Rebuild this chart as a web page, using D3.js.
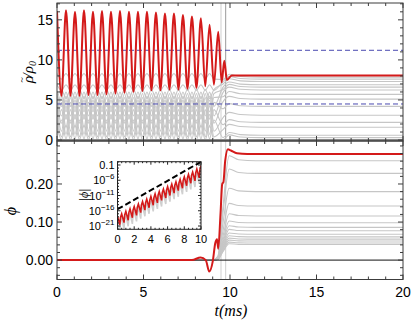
<!DOCTYPE html>
<html>
<head>
<meta charset="utf-8">
<script src="https://cdn.jsdelivr.net/npm/d3@7"></script>
<style>
body { margin: 0; background: #fff; }
svg { display: block; }
</style>
</head>
<body>
<script>
// --- density, red run: one peak and one trough per cycle (t in ms)
var redPeakT = [0, 0.52, 1.04, 1.56, 2.08, 2.6, 3.12, 3.64, 4.16, 4.68, 5.2, 5.72, 6.24, 6.76, 7.28, 7.8, 8.32, 8.82, 9.32];
var redPeakV = [16.1, 16.2, 16.0, 16.2, 16.0, 16.1, 16.0, 16.1, 16.0, 16.0, 16.0, 15.9, 15.8, 15.8, 15.6, 15.4, 15.2, 14.4, 13.5];
var redTroughT = [0.26, 0.78, 1.3, 1.82, 2.34, 2.86, 3.38, 3.9, 4.42, 4.94, 5.46, 5.98, 6.5, 7.02, 7.54, 8.06, 8.57, 9.07];
var redTroughV = [5.5, 5.5, 5.5, 5.6, 5.6, 5.7, 5.8, 5.9, 6.0, 6.1, 6.2, 6.2, 6.3, 6.3, 6.4, 6.5, 6.7, 6.9];
var redTailT = [9.52, 9.67, 9.82, 10.1, 20];
var redTailV = [7.2, 9.9, 7.5, 8.05, 8.05];

// --- density, grey runs: oscillation range and level after collapse
var grayRhoHi  = [8.3, 6.9, 6.3, 6.0, 5.8, 5.5, 5.3, 5.0, 4.7, 4.3, 3.8, 3.2, 2.5, 1.8];
var grayRhoLo  = [7.6, 6.2, 5.2, 4.2, 3.5, 3.0, 2.6, 2.1, 1.6, 1.1, 0.7, 0.4, 0.15, 0.05];
var grayRhoEnd = [7.85, 7.6, 7.3, 6.9, 6.6, 6.25, 5.7, 5.1, 4.2, 3.1, 2.2, 1.6, 0.6, 0.3];
var grayPhase  = [0, 0, 1, 0, 1, 0, 1, 0, 1, 0, 1, 0, 1, 0];
var grayRhoTailT = [9.6, 9.95, 10.6, 11.8, 20];
var grayRhoTailD = [-0.3, 0.35, 0.08, 0, 0];

// reference densities (dashed)
var rhoDashed = [11.2, 4.5];

// --- scalar field
var phiRedT = [0, 7.8, 8.3, 8.6, 8.8, 9.0, 9.15, 9.25, 9.32, 9.45, 9.55, 9.62, 9.72, 9.88, 10.05, 10.4, 11, 20];
var phiRedV = [0, 0, 0.007, 0.0, -0.03, -0.004, 0.045, 0.055, 0.03, 0.12, 0.2, 0.205, 0.26, 0.291, 0.288, 0.281, 0.279, 0.279];
var grayPhiEnd = [0.261, 0.228, 0.180, 0.142, 0.116, 0.098, 0.086, 0.077, 0.068, 0.061, 0.055, 0.050, 0.045, 0.041];
var grayPhiRiseT = [0, 9.0, 9.3, 9.6, 9.95, 10.5, 11.5, 20];
var grayPhiRiseF = [0, 0, 0.04, 0.55, 1.05, 1.01, 1, 1];

// collapse markers
var markT = [9.48, 9.75];

// --- inset: log10 |phi| over the first 10 ms
var insetT = [0, 0.5, 1, 1.5, 2, 2.5, 3, 3.5, 4, 4.5, 5, 5.5, 6, 6.5, 7, 7.5, 8, 8.5, 9, 9.5, 10];
var insetRedHi = [-17.8, -17.0, -16.2, -15.4, -14.6, -13.8, -13.0, -12.2, -11.3, -10.5, -9.7, -8.9, -8.1, -7.3, -6.5, -5.7, -4.9, -4.1, -3.3, -2.3, -1.2];
var insetRedDip = [-20.6, -19.9, -19.1, -18.3, -17.5, -16.6, -15.8, -15.0, -14.2, -13.4, -12.6, -11.8, -11.0, -10.2, -9.4, -8.6, -7.8, -7.0, -6.2, -5.2, -4.0];
var insetGrayHi = [-19.2, -18.4, -17.6, -16.8, -16.0, -15.2, -14.4, -13.6, -12.7, -11.9, -11.1, -10.3, -9.5, -8.7, -7.9, -7.1, -6.3, -5.5, -4.7, -3.7, -2.6];
var insetDashT = [0, 10];
var insetDashV = [-15.5, 0.05];

var xTicks = [0, 5, 10, 15, 20];
var rhoTicks = [0, 5, 10, 15];
var phiTicks = [0, 0.1, 0.2];
var insetXTicks = [0, 2, 4, 6, 8, 10];
var insetYTicks = [-1, -6, -11, -16, -21];

var W = 414, H = 323;
var left = 57, right = 403;
var topY0 = 3, topY1 = 141, botY0 = 141, botY1 = 279.5;
var red = "#d41a1a", gray = "#c6c6c6", frameCol = "#3c3c3c";

var svg = d3.select("body").append("svg")
    .attr("width", W)
    .attr("height", H);

var x = d3.scaleLinear().domain([0, 20]).range([left, right]);
var yRho = d3.scaleLinear().domain([-0.12, 17.1]).range([topY1, topY0]);
var yPhi = d3.scaleLinear().domain([-0.051, 0.313]).range([botY1, botY0]);

var defs = svg.append("defs");
defs.append("clipPath").attr("id", "clipTop").append("rect")
    .attr("x", left).attr("y", topY0).attr("width", right - left).attr("height", topY1 - topY0);
defs.append("clipPath").attr("id", "clipBot").append("rect")
    .attr("x", left).attr("y", botY0).attr("width", right - left).attr("height", botY1 - botY0);

function zip(ts, vs) {
    return ts.map(function(t, i) { return [t, vs[i]]; });
}

// interleave peaks and troughs into one sorted series
function cycles(pT, pV, qT, qV) {
    return zip(pT, pV).concat(zip(qT, qV)).sort(function(a, b) { return a[0] - b[0]; });
}

var lineRho = d3.line().x(function(d) { return x(d[0]); }).y(function(d) { return yRho(d[1]); })
    .curve(d3.curveMonotoneX);
var linePhi = d3.line().x(function(d) { return x(d[0]); }).y(function(d) { return yPhi(d[1]); })
    .curve(d3.curveMonotoneX);

// ---------- top panel ----------
var gTop = svg.append("g").attr("clip-path", "url(#clipTop)");

gTop.selectAll("line.mark")
    .data(markT)
    .enter().append("line")
    .attr("x1", function(d) { return x(d); })
    .attr("x2", function(d) { return x(d); })
    .attr("y1", topY0).attr("y2", topY1)
    .attr("stroke", function(d, i) { return i === 0 ? "#cfcfcf" : "#9a9a9a"; })
    .attr("stroke-width", 1);

var grayRhoSeries = grayRhoEnd.map(function(end, i) {
    var hiT = grayPhase[i] ? redTroughT : redPeakT.slice(0, -1);
    var loT = grayPhase[i] ? redPeakT.slice(0, -1) : redTroughT;
    var pts = cycles(hiT, hiT.map(function() { return grayRhoHi[i]; }),
                     loT, loT.map(function() { return grayRhoLo[i]; }));
    return pts.concat(zip(grayRhoTailT, grayRhoTailD.map(function(d) { return end + d; })));
});

gTop.selectAll("path.gray")
    .data(grayRhoSeries)
    .enter().append("path")
    .attr("class", "gray")
    .attr("d", lineRho)
    .attr("fill", "none")
    .attr("stroke", gray)
    .attr("stroke-width", 1.1);

gTop.append("path")
    .attr("d", lineRho([[0, 0], [20, 0]]))
    .attr("stroke", "#8a8a8a")
    .attr("stroke-width", 2);

gTop.selectAll("line.dash")
    .data(rhoDashed)
    .enter().append("line")
    .attr("x1", left).attr("x2", right)
    .attr("y1", function(d) { return yRho(d); })
    .attr("y2", function(d) { return yRho(d); })
    .attr("stroke", "#4a4ab0")
    .attr("stroke-width", 1)
    .attr("stroke-dasharray", "5,3");

var redRho = cycles(redPeakT, redPeakV, redTroughT, redTroughV).concat(zip(redTailT, redTailV));
gTop.append("path")
    .attr("d", lineRho(redRho))
    .attr("fill", "none")
    .attr("stroke", red)
    .attr("stroke-width", 2);

// ---------- bottom panel ----------
var gBot = svg.append("g").attr("clip-path", "url(#clipBot)");

gBot.selectAll("line.mark")
    .data(markT)
    .enter().append("line")
    .attr("x1", function(d) { return x(d); })
    .attr("x2", function(d) { return x(d); })
    .attr("y1", botY0).attr("y2", botY1)
    .attr("stroke", "#cfcfcf")
    .attr("stroke-width", 1);

gBot.selectAll("path.gray")
    .data(grayPhiEnd)
    .enter().append("path")
    .attr("d", function(end) {
        return linePhi(zip(grayPhiRiseT, grayPhiRiseF.map(function(f) { return f * end; })));
    })
    .attr("fill", "none")
    .attr("stroke", gray)
    .attr("stroke-width", 1.1);

gBot.append("line")
    .attr("x1", left).attr("x2", right)
    .attr("y1", yPhi(0)).attr("y2", yPhi(0))
    .attr("stroke", "#111")
    .attr("stroke-width", 1);

gBot.append("path")
    .attr("d", linePhi(zip(phiRedT, phiRedV)))
    .attr("fill", "none")
    .attr("stroke", red)
    .attr("stroke-width", 2);

// ---------- frames and ticks ----------
function frame(y0, y1, yScale, major, minorStep, yMin, yMax) {
    svg.append("rect")
        .attr("x", left).attr("y", y0)
        .attr("width", right - left).attr("height", y1 - y0)
        .attr("fill", "none")
        .attr("stroke", frameCol)
        .attr("stroke-width", 1);
    var g = svg.append("g").attr("stroke", frameCol).attr("stroke-width", 1);
    d3.range(0, 20.001, 1).forEach(function(t) {
        var len = t % 5 === 0 ? 5 : 3;
        g.append("line").attr("x1", x(t)).attr("x2", x(t)).attr("y1", y1).attr("y2", y1 - len);
        g.append("line").attr("x1", x(t)).attr("x2", x(t)).attr("y1", y0).attr("y2", y0 + len);
    });
    var start = Math.ceil(yMin / minorStep) * minorStep;
    d3.range(start, yMax, minorStep).forEach(function(v) {
        var isMajor = major.some(function(m) { return Math.abs(m - v) < minorStep / 10; });
        var len = isMajor ? 5 : 3;
        var yy = yScale(v);
        g.append("line").attr("x1", left).attr("x2", left + len).attr("y1", yy).attr("y2", yy);
        g.append("line").attr("x1", right).attr("x2", right - len).attr("y1", yy).attr("y2", yy);
    });
}
frame(topY0, topY1, yRho, rhoTicks, 1, 0, 17.1);
frame(botY0, botY1, yPhi, phiTicks, 0.02, -0.05, 0.313);

var tickFont = "'Liberation Sans', Arial, sans-serif";

svg.selectAll("text.rho")
    .data(rhoTicks)
    .enter().append("text")
    .attr("x", left - 4)
    .attr("y", function(d) { return yRho(d) + 5; })
    .attr("text-anchor", "end")
    .attr("font-family", tickFont)
    .attr("font-size", 14)
    .text(function(d) { return d; });

svg.selectAll("text.phi")
    .data(phiTicks)
    .enter().append("text")
    .attr("x", left - 4)
    .attr("y", function(d) { return yPhi(d) + 5; })
    .attr("text-anchor", "end")
    .attr("font-family", tickFont)
    .attr("font-size", 14)
    .text(function(d) { return d3.format(".2f")(d); });

svg.selectAll("text.xt")
    .data(xTicks)
    .enter().append("text")
    .attr("x", function(d) { return x(d); })
    .attr("y", 297)
    .attr("text-anchor", "middle")
    .attr("font-family", tickFont)
    .attr("font-size", 14)
    .text(function(d) { return d; });

// axis titles
var serif = "'Liberation Serif', 'Times New Roman', serif";
var rhoLab = svg.append("text")
    .attr("transform", "translate(33,72) rotate(-90)")
    .attr("text-anchor", "middle")
    .attr("font-family", serif)
    .attr("font-style", "italic")
    .attr("font-size", 15);
rhoLab.append("tspan").text("ρ");
rhoLab.append("tspan").attr("font-size", 10).attr("dx", -7).attr("dy", -8).text("~");
rhoLab.append("tspan").attr("dx", 0).attr("dy", 8).text("/ρ");
rhoLab.append("tspan").attr("font-size", 10).attr("dy", 3).text("0");

svg.append("text")
    .attr("transform", "translate(16,211) rotate(-90)")
    .attr("text-anchor", "middle")
    .attr("font-family", serif)
    .attr("font-style", "italic")
    .attr("font-size", 16)
    .text("ϕ");

svg.append("text")
    .attr("x", 231).attr("y", 316)
    .attr("text-anchor", "middle")
    .attr("font-family", serif)
    .attr("font-style", "italic")
    .attr("font-size", 16)
    .text("t(ms)");

// ---------- inset ----------
var ix0 = 117.5, ix1 = 201, iy0 = 161.7, iy1 = 229.3;
var xIn = d3.scaleLinear().domain([0, 10]).range([ix0, ix1]);
var yIn = d3.scaleLinear().domain([-22.08, 0.08]).range([iy1, iy0]);

defs.append("clipPath").attr("id", "clipIn").append("rect")
    .attr("x", ix0).attr("y", iy0).attr("width", ix1 - ix0).attr("height", iy1 - iy0);

svg.append("rect")
    .attr("x", ix0).attr("y", iy0).attr("width", ix1 - ix0).attr("height", iy1 - iy0)
    .attr("fill", "#fff");

var gIn = svg.append("g").attr("clip-path", "url(#clipIn)");
var lineIn = d3.line().x(function(d) { return xIn(d[0]); }).y(function(d) { return yIn(d[1]); });

// each cycle: rise to the top value, then a sharp drop
function sawSeries(hi, dip) {
    var pts = [];
    insetT.forEach(function(t, i) {
        pts.push([t, hi[i]]);
        if (i < insetT.length - 1) {
            pts.push([t + 0.28, dip[i]]);
            pts.push([t + 0.36, hi[i] - 0.4]);
        }
    });
    return pts;
}

gIn.append("path")
    .attr("d", lineIn(sawSeries(insetGrayHi, insetRedDip.map(function(v) { return v - 2; }))))
    .attr("fill", "none")
    .attr("stroke", "#cfcfcf")
    .attr("stroke-width", 1.6);

gIn.append("path")
    .attr("d", lineIn(sawSeries(insetRedHi, insetRedDip)))
    .attr("fill", "none")
    .attr("stroke", red)
    .attr("stroke-width", 1.6);

gIn.append("path")
    .attr("d", lineIn(zip(insetDashT, insetDashV)))
    .attr("fill", "none")
    .attr("stroke", "#000")
    .attr("stroke-width", 2)
    .attr("stroke-dasharray", "6,3");

svg.append("rect")
    .attr("x", ix0).attr("y", iy0).attr("width", ix1 - ix0).attr("height", iy1 - iy0)
    .attr("fill", "none")
    .attr("stroke", "#222")
    .attr("stroke-width", 1);

var gInT = svg.append("g").attr("stroke", "#222").attr("stroke-width", 1);
d3.range(0, 10.001, 0.5).forEach(function(t) {
    var len = t % 2 === 0 ? 3 : 1.5;
    gInT.append("line").attr("x1", xIn(t)).attr("x2", xIn(t)).attr("y1", iy1).attr("y2", iy1 - len);
    gInT.append("line").attr("x1", xIn(t)).attr("x2", xIn(t)).attr("y1", iy0).attr("y2", iy0 + len);
});
d3.range(-22, 0.5, 1).forEach(function(v) {
    var len = (v + 1) % 5 === 0 ? 3 : 1.5;
    gInT.append("line").attr("x1", ix0).attr("x2", ix0 + len).attr("y1", yIn(v)).attr("y2", yIn(v));
    gInT.append("line").attr("x1", ix1).attr("x2", ix1 - len).attr("y1", yIn(v)).attr("y2", yIn(v));
});

svg.selectAll("text.ixt")
    .data(insetXTicks)
    .enter().append("text")
    .attr("x", function(d) { return xIn(d); })
    .attr("y", 243)
    .attr("text-anchor", "middle")
    .attr("font-family", tickFont)
    .attr("font-size", 11)
    .text(function(d) { return d; });

insetYTicks.forEach(function(v) {
    var t = svg.append("text")
        .attr("x", ix0 - 3)
        .attr("y", yIn(v) + 4)
        .attr("text-anchor", "end")
        .attr("font-family", tickFont)
        .attr("font-size", 11);
    if (v === -1) {
        t.text("0.1");
    } else {
        t.append("tspan").text("10");
        t.append("tspan").attr("dy", -5).attr("font-size", 8).text("\u2212" + (-v));
    }
});

var absLab = svg.append("text")
    .attr("transform", "translate(88,195) rotate(-90)")
    .attr("text-anchor", "middle")
    .attr("font-family", serif)
    .attr("font-style", "italic")
    .attr("font-size", 12)
    .text("|ϕ|");
</script>
</body>
</html>
